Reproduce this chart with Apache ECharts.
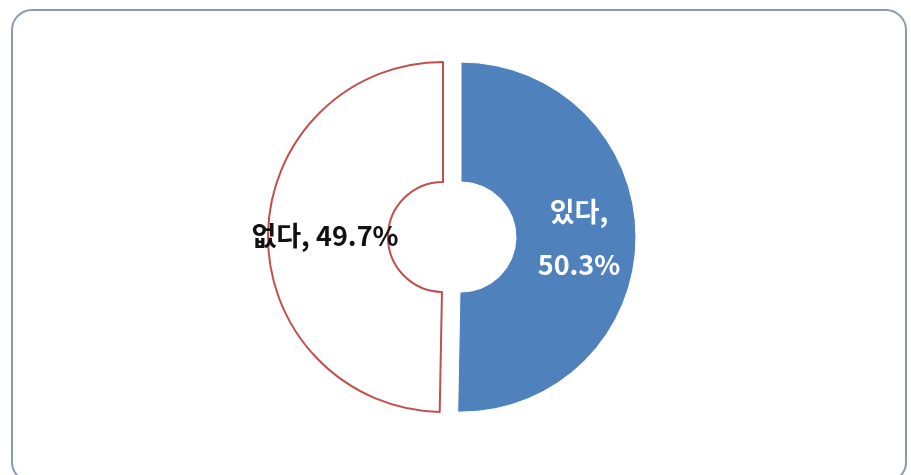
<!DOCTYPE html>
<html>
<head>
<meta charset="utf-8">
<script src="https://cdn.jsdelivr.net/npm/echarts@6/dist/echarts.min.js"></script>
<style>
  html, body { margin: 0; padding: 0; background: #fff; }
  #chart { width: 911px; height: 475px; }
</style>
</head>
<body>
<div id="chart"></div>
<script>
const categories = ['있다', '없다']
const shares = [50.3, 49.7]

const chart = echarts.init(document.getElementById('chart'))

chart.setOption({
  animation: false,
  graphic: [{
    type: 'rect',
    shape: { x: 12, y: 10, width: 894, height: 472, r: 20 },
    style: { fill: '#fff', stroke: '#8a9bb0', lineWidth: 2 },
    z: -10
  }],
  series: [{
    type: 'pie',
    center: [452, 237],
    radius: [55, 175],
    startAngle: 90,
    clockwise: true,
    selectedMode: 'multiple',
    selectedOffset: 9,
    emphasis: { disabled: true },
    label: {
      position: 'inside',
      fontFamily: '"Noto Sans CJK KR", "Noto Sans", sans-serif',
      fontSize: 27,
      fontWeight: 'bold',
      lineHeight: 53
    },
    labelLine: { show: false },
    data: categories.map((name, i) => ({
      name,
      value: shares[i],
      selected: true,
      itemStyle: i === 0
        ? { color: '#4f81bd', borderColor: '#fff', borderWidth: 1 }
        : { color: '#fff', borderColor: '#c0504d', borderWidth: 2 },
      label: i === 0
        ? { color: '#fff', formatter: p => p.name + ',\n' + p.value + '%' }
        : { color: '#111', formatter: p => p.name + ', ' + p.value + '%' }
    }))
  }]
})
</script>
</body>
</html>
